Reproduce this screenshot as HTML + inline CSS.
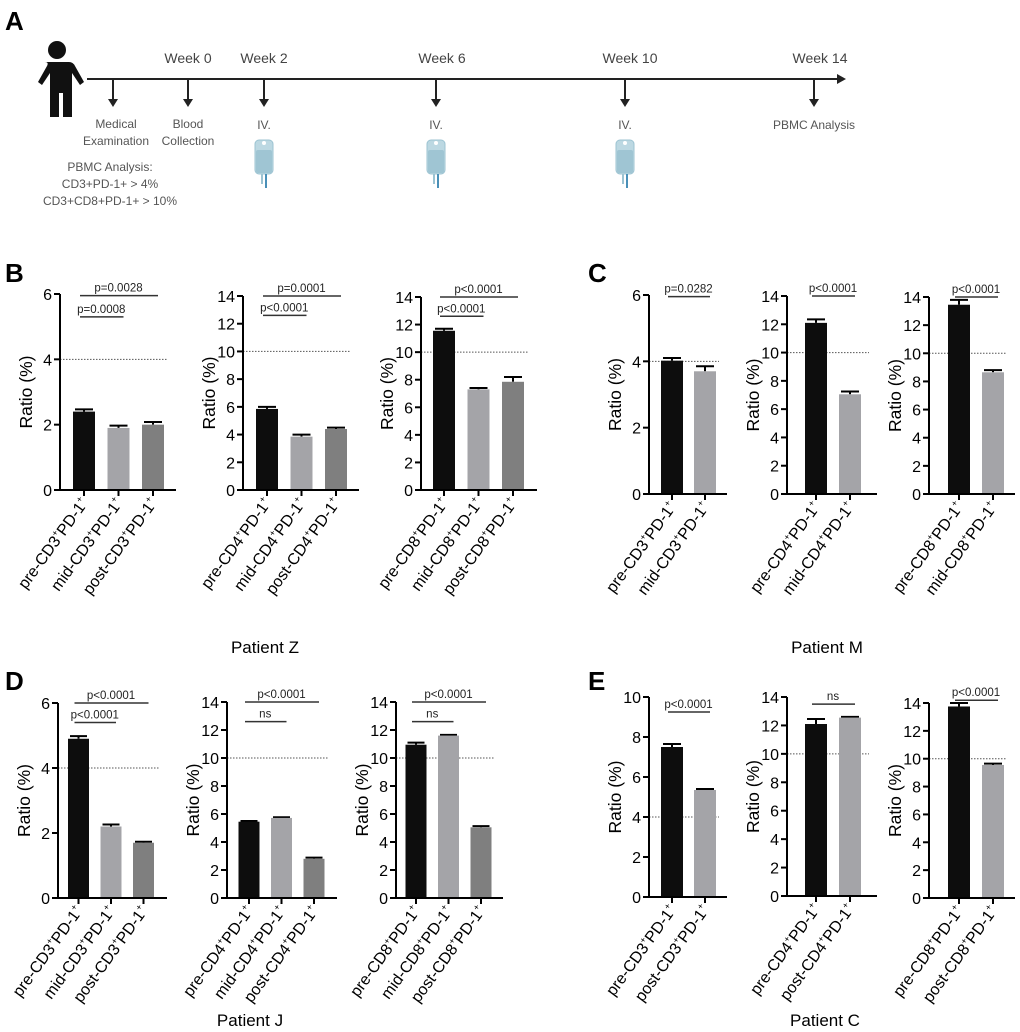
<!DOCTYPE html>
<html><head><meta charset="utf-8"><style>
body{margin:0;background:#fff;}
svg{display:block;font-family:"Liberation Sans",Arial,sans-serif;}
</style></head><body>
<svg id="fig" width="1020" height="1032" viewBox="0 0 1020 1032" xmlns="http://www.w3.org/2000/svg">
<g id="timeline">
<text x="5" y="30" font-size="26" font-weight="bold">A</text>
<g fill="#111">
<circle cx="57" cy="50" r="9"/>
<path d="M45 62 H69 Q73 62 75 66 L84 82 L80 85 L72 73 V117 H63 V93 H59 V117 H50 V73 L42 85 L38 82 L47 66 Q49 62 45 62Z"/>
</g>
<line x1="87" y1="79" x2="838" y2="79" stroke="#222" stroke-width="2"/>
<polygon points="837,74 846,79 837,84" fill="#222"/>
</g>
<g id="charts"></g>
</svg>
<script>
const NS="http://www.w3.org/2000/svg";
const svg=document.getElementById('fig');
function mk(tag,attrs,parent){const e=document.createElementNS(NS,tag);for(const k in attrs)e.setAttribute(k,attrs[k]);(parent||svg).appendChild(e);return e;}

// ---- Timeline data ----
const eventX=[113,188,264,436,625,814];
const weekLabels=["","Week 0","Week 2","Week 6","Week 10","Week 14"];
const weekLabelX=[0,188,264,442,630,820];
const tl=document.getElementById('timeline');
eventX.forEach((x,i)=>{
  const l=mk('line',{x1:x,y1:80,x2:x,y2:100,stroke:'#222','stroke-width':2},tl);
  
  
  const p=mk('polygon',{points:`${x-5},99 ${x+5},99 ${x},107`,fill:'#222'},tl);
  
  
  if(weekLabels[i]){
    const t=mk('text',{x:weekLabelX[i],y:63,'font-size':14,fill:'#444','text-anchor':'middle'},tl);
    t.textContent=weekLabels[i];
    
    
  }
});
const smallTexts=[["Medical",116,128],["Examination",116,145],["Blood",188,128],["Collection",188,145],["IV.",264,129],["IV.",436,129],["IV.",625,129],["PBMC Analysis",814,129],["PBMC Analysis:",110,171],["CD3+PD-1+ > 4%",110,188],["CD3+CD8+PD-1+ > 10%",110,205]];
smallTexts.forEach(s=>{
  const t=mk('text',{x:s[1],y:s[2],'font-size':12,fill:'#555','text-anchor':'middle'},tl);
  t.textContent=s[0];
  
  
});
[264,436,625].forEach(x=>{
  const g=mk('g',{},tl);
  
  
  mk('rect',{x:x-9,y:140,width:18,height:34,rx:4,fill:'#bcd8e2',stroke:'#9cc3d2'},g);
  mk('rect',{x:x-8,y:150,width:16,height:23,rx:2,fill:'#9fc5d3'},g);
  mk('circle',{cx:x,cy:143,r:2,fill:'#fff'},g);
  mk('line',{x1:x-2,y1:174,x2:x-2,y2:184,stroke:'#9cc3d2','stroke-width':2},g);
  mk('line',{x1:x+2,y1:174,x2:x+2,y2:188,stroke:'#4a90b8','stroke-width':2},g);
});

// ---- Chart data ----
const chartCategories=[
 ["pre-CD3","mid-CD3","post-CD3"],["pre-CD4","mid-CD4","post-CD4"],["pre-CD8","mid-CD8","post-CD8"],
 ["pre-CD3","mid-CD3"],["pre-CD4","mid-CD4"],["pre-CD8","mid-CD8"],
 ["pre-CD3","mid-CD3","post-CD3"],["pre-CD4","mid-CD4","post-CD4"],["pre-CD8","mid-CD8","post-CD8"],
 ["pre-CD3","post-CD3"],["pre-CD4","post-CD4"],["pre-CD8","post-CD8"]];
const chartValues=[
 [2.4,1.9,2.0],[5.85,3.85,4.4],[11.55,7.3,7.85],
 [4.02,3.7],[12.1,7.05],[13.45,8.65],
 [4.9,2.2,1.7],[5.45,5.72,2.8],[10.95,11.6,5.05],
 [7.5,5.35],[12.1,12.55],[13.75,9.55]];
const chartErrors=[
 [0.07,0.07,0.08],[0.15,0.15,0.1],[0.15,0.1,0.35],
 [0.08,0.15],[0.25,0.2],[0.35,0.15],
 [0.08,0.06,0.03],[0.05,0.05,0.08],[0.15,0.05,0.08],
 [0.15,0.05],[0.35,0.05],[0.25,0.1]];
const chartYMax=[6,14,14,6,14,14,6,14,14,10,14,14];
const chartRefLine=[4,10,10,4,10,10,4,10,10,4,10,10];
// brackets: [fromIndex,toIndex,yValue,label]
const chartBrackets=[
 [[0,1,5.3,"p=0.0008"],[0,2,5.95,"p=0.0028"]],
 [[0,1,12.6,"p<0.0001"],[0,2,14,"p=0.0001"]],
 [[0,1,12.6,"p<0.0001"],[0,2,14,"p<0.0001"]],
 [[0,1,5.95,"p=0.0282"]],
 [[0,1,14,"p<0.0001"]],
 [[0,1,14,"p<0.0001"]],
 [[0,1,5.4,"p<0.0001"],[0,2,6.0,"p<0.0001"]],
 [[0,1,12.6,"ns"],[0,2,14,"p<0.0001"]],
 [[0,1,12.6,"ns"],[0,2,14,"p<0.0001"]],
 [[0,1,9.25,"p<0.0001"]],
 [[0,1,13.5,"ns"]],
 [[0,1,14.2,"p<0.0001"]]];
// layout (pixels): axisX, y0, yTop, firstCenterOffset, pitch, barWidth, axisLength
const chartLayout=[
 [60,490,294,24,34.5,22,116],[243,490,296,24,34.5,22,116],[421,490,297,23,34.5,22,116],
 [649,494,295,23,33,22,78],[787,494,296,29,34,22,90],[929,494,297,30,34,22,86],
 [58,898,703,20.5,32.5,21,109],[227,898,702,22,32.5,21,110],[396,898,702,20,32.5,21,107],
 [649,897,697,23,33,22,78],[787,896,697,29,34,22,90],[929,898,703,30,34,22,86]];
const barColors=["#0d0d0d","#a4a4a8","#7f7f7f"];

const charts=document.getElementById('charts');
chartValues.forEach((vals,ci)=>{
  const [ax,y0,yTop,off,pitch,bw,alen]=chartLayout[ci];
  const ymax=chartYMax[ci];
  const yS=v=>y0-(v/ymax)*(y0-yTop);
  const xC=i=>ax+off+i*pitch;
  const g=mk('g',{},charts);
  
  
  const rl=mk('line',{x1:ax,x2:ax+alen-8,y1:yS(chartRefLine[ci]),y2:yS(chartRefLine[ci]),stroke:'#555','stroke-width':1,'stroke-dasharray':'1.5,1.5'},g);
  
  
  vals.forEach((v,i)=>{
    const top=yS(v), e=yS(v+chartErrors[ci][i]);
    const eb=mk('line',{x1:xC(i),x2:xC(i),y1:e,y2:top,stroke:'#000','stroke-width':2},g);
    
    
    const cap=mk('line',{x1:xC(i)-bw/2+2,x2:xC(i)+bw/2-2,y1:e,y2:e,stroke:'#000','stroke-width':2},g);
    
    
    const r=mk('rect',{x:xC(i)-bw/2,y:top,width:bw,height:y0-top,fill:barColors[i]},g);
    
    
    const tk=mk('line',{x1:xC(i),x2:xC(i),y1:y0,y2:y0+6,stroke:'#000','stroke-width':2},g);
    
    
    const t=mk('text',{x:0,y:0,'font-size':16,'text-anchor':'end',transform:`translate(${xC(i)+5},${y0+13}) rotate(-54)`},g);
    t.innerHTML=chartCategories[ci][i]+'<tspan font-size="9" dy="-7">+</tspan><tspan dy="7">PD-1</tspan><tspan font-size="9" dy="-7">+</tspan>';
    
    
  });
  const ya=mk('line',{x1:ax,x2:ax,y1:yTop,y2:y0+1,stroke:'#000','stroke-width':2},g);
  
  
  const xa=mk('line',{x1:ax-1,x2:ax+alen,y1:y0,y2:y0,stroke:'#000','stroke-width':2},g);
  
  
  for(let v=0;v<=ymax;v+=2){
    const tk=mk('line',{x1:ax-6,x2:ax,y1:yS(v),y2:yS(v),stroke:'#000','stroke-width':2},g);
    
    
    const tt=mk('text',{x:ax-8,y:yS(v)+6,'font-size':16,'text-anchor':'end'},g);
    tt.textContent=v;
    
    
  }
  const yl=mk('text',{x:0,y:0,'font-size':17.5,'text-anchor':'middle',transform:`translate(${ax-28},${(y0+yTop)/2}) rotate(-90)`},g);
  yl.textContent='Ratio (%)';
  
  
  chartBrackets[ci].forEach(b=>{
    const y=yS(b[2]);
    const bl=mk('line',{x1:xC(b[0])-4,x2:xC(b[1])+5,y1:y,y2:y,stroke:'#333','stroke-width':1.5},g);
    
    
    const bt=mk('text',{x:(xC(b[0])+xC(b[1]))/2,y:y-4,'font-size':11.5,'text-anchor':'middle',fill:'#222'},g);
    bt.textContent=b[3];
    
    
  });
});
const labels=[["B",5,282],["C",588,282],["D",5,690],["E",588,690]];
labels.forEach(l=>{
  const t=mk('text',{x:l[1],y:l[2],'font-size':26,'font-weight':'bold'},charts);
  t.textContent=l[0];
  
  
});
const patients=[["Patient Z",265,653],["Patient M",827,653],["Patient J",250,1026],["Patient C",825,1026]];
patients.forEach(p=>{
  const t=mk('text',{x:p[1],y:p[2],'font-size':17,'text-anchor':'middle'},charts);
  t.textContent=p[0];
  
  
});
</script>
</body></html>
